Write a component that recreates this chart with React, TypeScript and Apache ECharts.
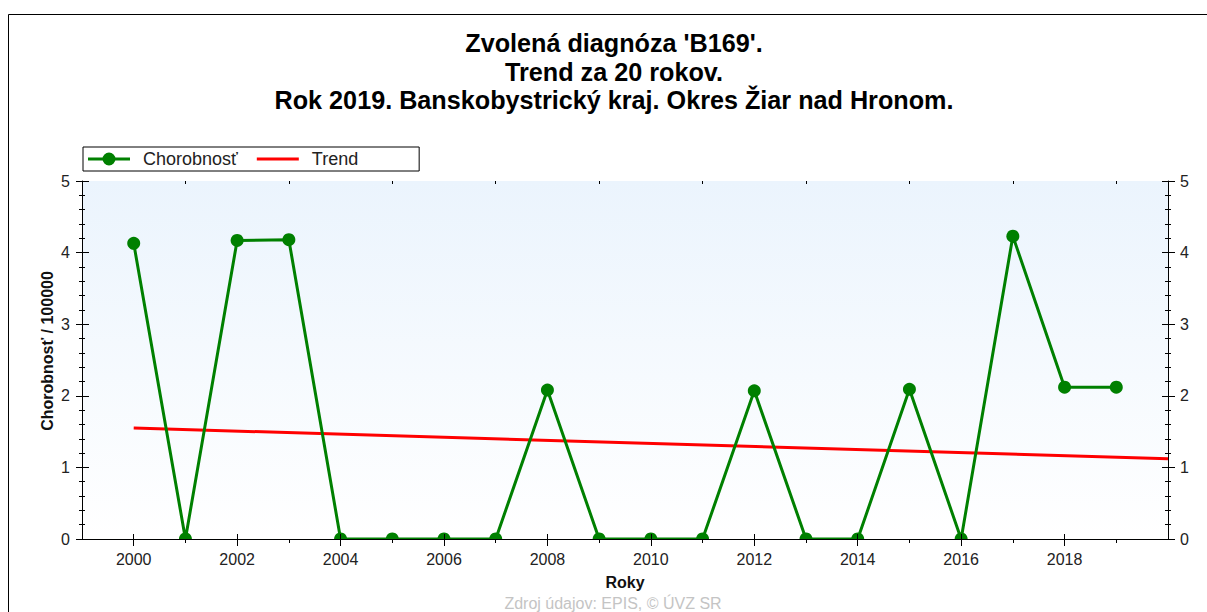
import React, { useEffect, useRef } from "react";
import * as echarts from "echarts";

const years = [2000, 2001, 2002, 2003, 2004, 2005, 2006, 2007, 2008, 2009, 2010, 2011, 2012, 2013, 2014, 2015, 2016, 2017, 2018, 2019];
const chorobnost = [4.13, 0, 4.17, 4.18, 0, 0, 0, 0, 2.08, 0, 0, 0, 2.07, 0, 0, 2.09, 0, 4.23, 2.12, 2.12];
const trendYears = [2000, 2020];
const trendValues = [1.55, 1.12];
const labelYears = [2000, 2002, 2004, 2006, 2008, 2010, 2012, 2014, 2016, 2018];
const oddYears = [2001, 2003, 2005, 2007, 2009, 2011, 2013, 2015, 2017, 2019];
const titleLines = [
  "Zvolená diagnóza 'B169'.",
  "Trend za 20 rokov.",
  "Rok 2019. Banskobystrický kraj. Okres Žiar nad Hronom.",
];
const yAxisTitle = "Chorobnosť / 100000";
const xAxisTitle = "Roky";
const footer = "Zdroj údajov: EPIS, © ÚVZ SR";

const FONT = '"Liberation Sans", Arial, sans-serif';
const BLACK = "#000";
const GREEN = "#008000";
const RED = "#ff0000";

const ICON_LINE_MARKER =
  "path://M0,5H15V8H0Z M27,5H42V8H27Z M27.5,6.5A6.5,6.5,0,1,1,14.5,6.5A6.5,6.5,0,1,1,27.5,6.5Z";
const ICON_LINE = "path://M0,5H42V8H0Z";

function xAx(position: string, extra: any) {
  return {
    type: "value",
    position,
    min: 1999,
    max: 2020,
    interval: 1,
    z: 10,
    splitLine: { show: false },
    axisLabel: { show: false },
    axisLine: { show: false, lineStyle: { color: BLACK, width: 1 } },
    ...extra,
  };
}

function yAx(position: string, extra: any) {
  return {
    type: "value",
    position,
    min: 0,
    max: 5,
    interval: 1,
    z: 10,
    splitLine: { show: false },
    axisLabel: { show: false },
    axisLine: { show: false, lineStyle: { color: BLACK, width: 1 } },
    ...extra,
  };
}

export default function App() {
  const ref = useRef<HTMLDivElement>(null);
  useEffect(() => {
    if (!ref.current) return;
    const chart = echarts.init(ref.current, null, { renderer: "svg" });
    const tickLabel = { show: true, fontSize: 16, color: "#222", fontFamily: FONT, margin: 12 };
    chart.setOption({
      animation: false,
      backgroundColor: "#fff",
      title: {
        text: titleLines.join("\n"),
        left: 614,
        top: 29,
        padding: 0,
        textAlign: "center",
        textStyle: { fontSize: 25.2, fontWeight: "bold", color: BLACK, fontFamily: FONT, lineHeight: 28.5 },
      },
      legend: {
        left: 83,
        top: 147,
        orient: "horizontal",
        itemWidth: 42,
        itemHeight: 13,
        itemGap: 19,
        symbolKeepAspect: true,
        padding: [3, 61, 3, 5],
        borderColor: BLACK,
        borderWidth: 1,
        backgroundColor: "#fff",
        textStyle: { fontSize: 18, color: "#222", fontFamily: FONT, padding: [0, 0, 0, 8], lineHeight: 18 },
        data: [
          { name: "Chorobnosť", icon: ICON_LINE_MARKER, itemStyle: { color: GREEN } },
          { name: "Trend", icon: ICON_LINE, itemStyle: { color: RED } },
        ],
      },
      grid: {
        left: 82,
        right: 39,
        top: 181,
        bottom: 73,
        show: true,
        borderWidth: 0,
        backgroundColor: new echarts.graphic.LinearGradient(0, 0, 0, 1, [
          { offset: 0, color: "#ebf4fd" },
          { offset: 1, color: "#ffffff" },
        ]),
      },
      xAxis: [
        xAx("bottom", {
          axisLine: { show: true, lineStyle: { color: BLACK, width: 1 } },
          axisLabel: { ...tickLabel, customValues: labelYears, formatter: (v: number) => String(v) },
          axisTick: { show: true, customValues: oddYears, length: 4, lineStyle: { color: BLACK } },
          name: xAxisTitle,
          nameLocation: "middle",
          nameGap: 35,
          nameTextStyle: { fontSize: 16, fontWeight: "bold", color: "#111", fontFamily: FONT },
        }),
        xAx("bottom", { axisTick: { show: true, customValues: labelYears, length: 6, lineStyle: { color: BLACK } } }),
        xAx("bottom", { axisTick: { show: true, inside: true, customValues: labelYears, length: 5, lineStyle: { color: BLACK } } }),
        xAx("top", {
          axisLine: { show: true, lineStyle: { color: BLACK, width: 1 } },
          axisTick: { show: true, inside: true, customValues: labelYears, length: 7, lineStyle: { color: BLACK } },
        }),
        xAx("top", { axisTick: { show: true, inside: true, customValues: oddYears, length: 3, lineStyle: { color: BLACK } } }),
      ],
      yAxis: [
        yAx("left", {
          axisLine: { show: true, lineStyle: { color: BLACK, width: 1 } },
          axisLabel: tickLabel,
          axisTick: { show: true, length: 6, lineStyle: { color: BLACK } },
          minorTick: { show: true, splitNumber: 5, length: 3, lineStyle: { color: BLACK } },
        }),
        yAx("left", {
          axisTick: { show: true, inside: true, length: 7, lineStyle: { color: BLACK } },
          minorTick: { show: true, splitNumber: 5, length: 3, lineStyle: { color: BLACK } },
        }),
        yAx("right", {
          axisLine: { show: true, lineStyle: { color: BLACK, width: 1 } },
          axisLabel: tickLabel,
          axisTick: { show: true, length: 7, lineStyle: { color: BLACK } },
          minorTick: { show: true, splitNumber: 5, length: 3, lineStyle: { color: BLACK } },
        }),
        yAx("right", {
          axisTick: { show: true, inside: true, length: 6, lineStyle: { color: BLACK } },
          minorTick: { show: true, splitNumber: 5, length: 3, lineStyle: { color: BLACK } },
        }),
      ],
      series: [
        {
          name: "Trend",
          type: "line",
          xAxisIndex: 0,
          yAxisIndex: 0,
          data: trendYears.map((y, i) => [y, trendValues[i]]),
          symbol: "none",
          lineStyle: { color: RED, width: 3 },
          itemStyle: { color: RED },
          z: 2,
        },
        {
          name: "Chorobnosť",
          type: "line",
          xAxisIndex: 0,
          yAxisIndex: 0,
          data: years.map((y, i) => [y, chorobnost[i]]),
          symbol: "circle",
          symbolSize: 13,
          lineStyle: { color: GREEN, width: 3 },
          itemStyle: { color: GREEN },
          z: 3,
        },
      ],
      graphic: [
        {
          type: "rect",
          z: 0,
          shape: { x: 8.5, y: 14.5, width: 1240, height: 700 },
          style: { fill: "none", stroke: BLACK, lineWidth: 1 },
        },
        {
          type: "rect",
          z: 5,
          shape: { x: 84, y: 540, width: 1083, height: 9 },
          style: { fill: "#fff" },
        },
        {
          type: "text",
          z: 5,
          x: 47,
          y: 351,
          rotation: Math.PI / 2,
          style: {
            text: yAxisTitle,
            font: `bold 16px ${FONT}`,
            fill: "#111",
            textAlign: "center",
            textVerticalAlign: "middle",
          },
        },
        {
          type: "text",
          z: 5,
          x: 613,
          y: 595,
          style: {
            text: footer,
            font: `16px ${FONT}`,
            fill: "#c4c4c4",
            textAlign: "center",
            textVerticalAlign: "top",
          },
        },
      ],
    });
    return () => chart.dispose();
  }, []);
  return <div ref={ref} style={{ position: "absolute", left: 0, top: 0, width: 1207, height: 612 }} />;
}
